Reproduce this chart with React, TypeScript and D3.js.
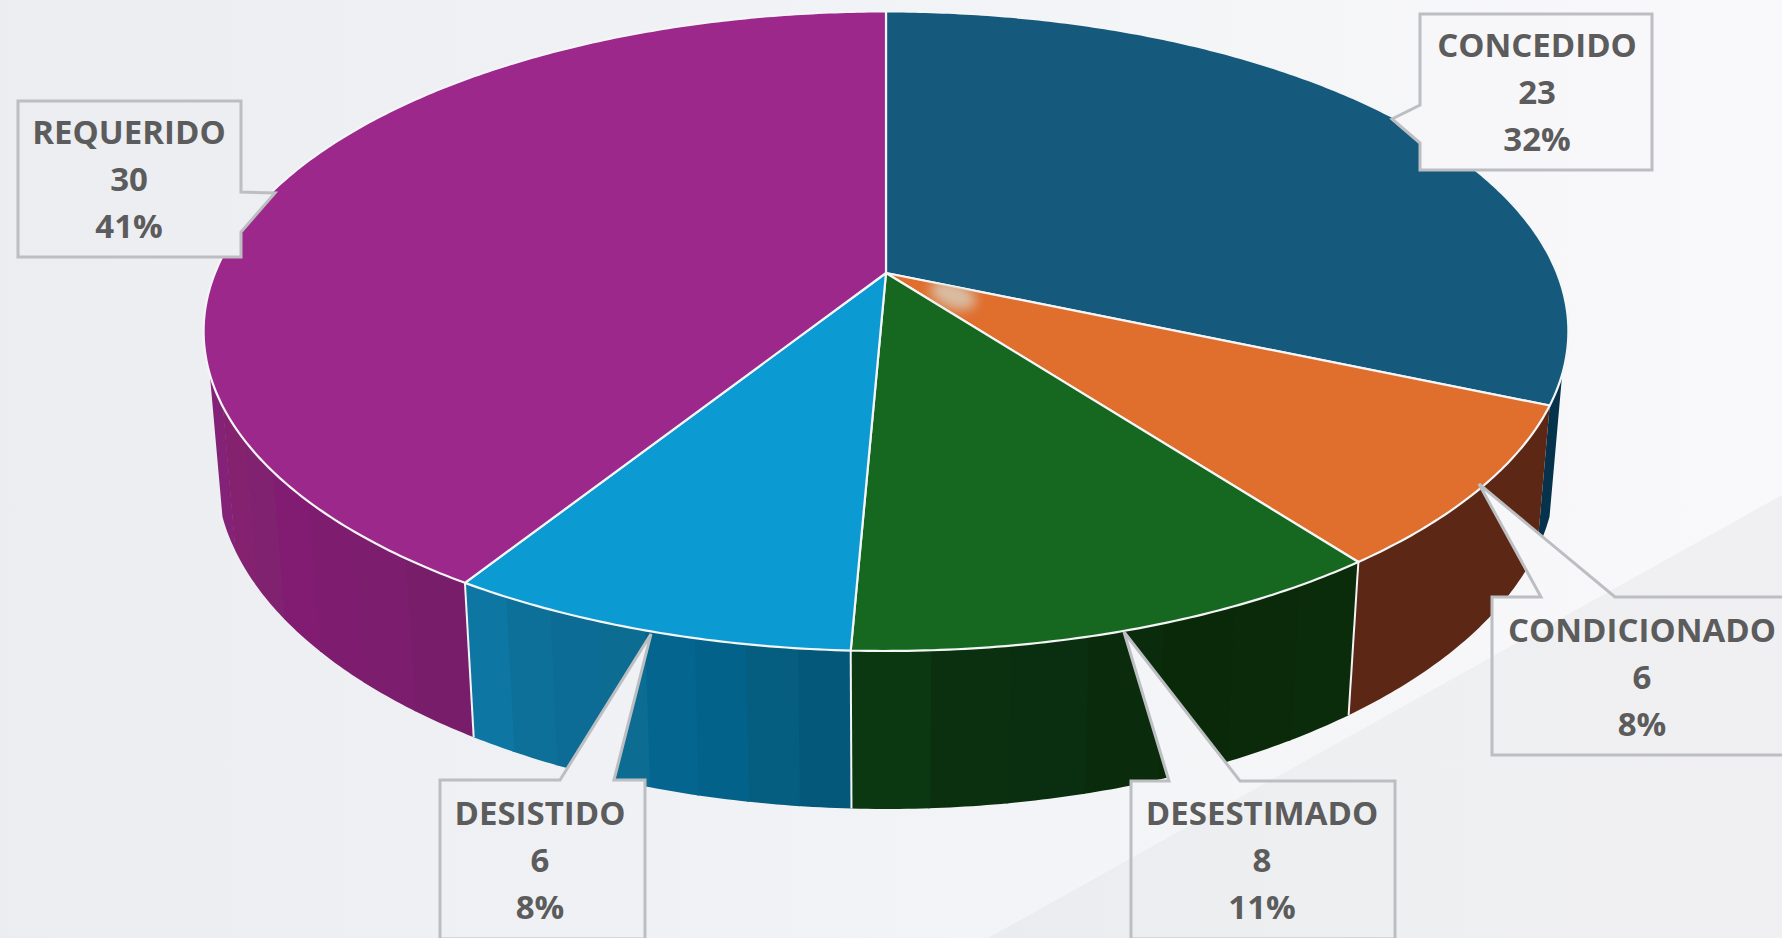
import React, { useEffect, useRef } from 'react';
import * as d3 from 'd3';

const categories = ['CONCEDIDO', 'CONDICIONADO', 'DESESTIMADO', 'DESISTIDO', 'REQUERIDO'];
const counts = [23, 6, 8, 6, 30];
const percentLabels = ['32%', '8%', '11%', '8%', '41%'];

const topColors = ['#155a7d', '#e06e2d', '#166820', '#0c9ad3', '#9c288b'];

// wall shading, one shade per band, going clockwise round the pie
const wallBands = [
    ['#06324b'],
    ['#5c2715'],
    ['#0a2c0b', '#0a2a0a', '#0a2909', '#0a2b0c', '#0a2f10', '#0a3010', '#0b3810'],
    ['#04587a', '#055e80', '#03628a', '#04658e', '#0c6c92', '#0d6c96', '#0c7099', '#0d76a2'],
    ['#781d6a', '#7c1d6d', '#7e1d6f', '#821c72', '#812270', '#85226f', '#842278'],
];

// callout outlines, tip included
const calloutOutlines = [
    [[1420, 14], [1652, 14], [1652, 170], [1420, 170], [1420, 143], [1392, 119], [1420, 105]],
    [[1492, 597], [1541, 597], [1479, 484], [1615, 597], [1800, 597], [1800, 755], [1492, 755]],
    [[1131, 781], [1169, 781], [1124, 632], [1240, 781], [1395, 781], [1395, 939], [1131, 939]],
    [[440, 780], [560, 780], [651, 634], [614, 780], [645, 780], [645, 939], [440, 939]],
    [[18, 101], [241, 101], [241, 192], [275, 193], [241, 232], [241, 257], [18, 257]],
];
const labelAnchors = [[1537, 57], [1642, 642], [1262, 825], [540, 825], [129, 144]];

const WIDTH = 1782;
const HEIGHT = 938;

// perspective of the disc, fitted on the reference
const cx = 886;
const persp = { a: 273, b: 259.5, c: -0.182, d: 671, e: 0.018, f: 143.8 };
// the walls stop 72 degrees either side of the front
const wallFrom = (108 * Math.PI) / 180;
const wallTo = (252 * Math.PI) / 180;

const project = (angle: number, level: number): [number, number] => {
    const z = -Math.cos(angle);
    const w = 1 + persp.c * z + persp.e * level;
    return [cx + (persp.d * Math.sin(angle)) / w, (persp.a + persp.b * z + persp.f * level) / w];
};

const arcAngles = (from: number, to: number) => {
    const n = Math.max(2, Math.ceil((to - from) / 0.01));
    return d3.range(n + 1).map(i => from + ((to - from) * i) / n);
};

export default function App() {
    const ref = useRef<SVGSVGElement>(null);

    useEffect(() => {
        document.body.style.margin = '0';
        const svg = d3.select(ref.current);
        svg.selectAll('*').remove();
        const defs = svg.append('defs');

        const bgGrad = defs.append('linearGradient').attr('id', 'bgGrad').attr('gradientUnits', 'userSpaceOnUse')
            .attr('x1', 0).attr('x2', WIDTH).attr('y1', 0).attr('y2', 0);
        bgGrad.append('stop').attr('offset', 0).attr('stop-color', '#ebedf1');
        bgGrad.append('stop').attr('offset', 1).attr('stop-color', '#f9f9fb');

        const cornerGrad = defs.append('linearGradient').attr('id', 'cornerGrad').attr('gradientUnits', 'userSpaceOnUse')
            .attr('x1', 990).attr('x2', WIDTH).attr('y1', 0).attr('y2', 0);
        cornerGrad.append('stop').attr('offset', 0).attr('stop-color', '#ebecef');
        cornerGrad.append('stop').attr('offset', 0.4).attr('stop-color', '#eeeff1');
        cornerGrad.append('stop').attr('offset', 1).attr('stop-color', '#f0f0f2');

        defs.append('filter').attr('id', 'smear').attr('x', '-50%').attr('y', '-50%').attr('width', '200%').attr('height', '200%')
            .append('feGaussianBlur').attr('stdDeviation', 6);

        // background
        svg.append('rect').attr('width', WIDTH).attr('height', HEIGHT).attr('fill', 'url(#bgGrad)');
        svg.append('path').attr('d', `M${WIDTH},495 L988,${HEIGHT} L${WIDTH},${HEIGHT} Z`).attr('fill', 'url(#cornerGrad)');

        const line = d3.line();
        const slices = d3.pie<number>().sort(null).startAngle(0).endAngle(2 * Math.PI)(counts);

        // callouts are knocked out of the pie so that the background shows through
        const mask = defs.append('mask').attr('id', 'calloutMask').attr('maskUnits', 'userSpaceOnUse')
            .attr('x', 0).attr('y', 0).attr('width', WIDTH).attr('height', HEIGHT);
        mask.append('rect').attr('width', WIDTH).attr('height', HEIGHT).attr('fill', '#fff');
        calloutOutlines.forEach(o => {
            mask.append('path').attr('d', line(o as [number, number][]) + 'Z').attr('fill', '#000');
        });

        const pie = svg.append('g').attr('mask', 'url(#calloutMask)');

        // walls
        slices.forEach((s, i) => {
            const from = Math.max(s.startAngle, wallFrom);
            const to = Math.min(s.endAngle, wallTo);
            if (to <= from) return;
            const bands = wallBands[i];
            const step = (to - from) / bands.length;
            bands.forEach((shade, k) => {
                const a0 = from + k * step;
                const a1 = k === bands.length - 1 ? to : a0 + step + 0.003;
                const upper = arcAngles(a0, a1).map(t => project(t, 0));
                const lower = arcAngles(a0, a1).map(t => project(t, 1)).reverse();
                pie.append('path').attr('d', line([...upper, ...lower]) + 'Z').attr('fill', shade);
            });
        });

        // wall edges
        slices.forEach(s => {
            if (s.startAngle < Math.PI * 0.7 || s.startAngle > wallTo) return;
            pie.append('path')
                .attr('d', line([project(s.startAngle, 0), project(s.startAngle, 1)]))
                .attr('stroke', '#f2f3f5').attr('stroke-width', 2).attr('fill', 'none');
        });

        // top faces
        slices.forEach((s, i) => {
            const d = line([[cx, persp.a] as [number, number],
                ...arcAngles(s.startAngle, s.endAngle).map(t => project(t, 0))]) + 'Z';
            pie.append('path').attr('d', d).attr('fill', topColors[i]).attr('stroke', '#f4f5f6').attr('stroke-width', 2.2).attr('stroke-linejoin', 'round');
            if (i === 1) {
                defs.append('clipPath').attr('id', 'orangeClip').append('path').attr('d', d);
            }
        });

        // pale smudge near the centre of the orange slice
        pie.append('g').attr('clip-path', 'url(#orangeClip)')
            .append('ellipse').attr('cx', 953).attr('cy', 295).attr('rx', 24).attr('ry', 13)
            .attr('transform', 'rotate(20 953 295)')
            .attr('fill', '#d8cbb8').attr('opacity', 0.85).attr('filter', 'url(#smear)');

        // callout borders and text
        calloutOutlines.forEach((o, i) => {
            svg.append('path').attr('d', line(o as [number, number][]) + 'Z')
                .attr('fill', 'none').attr('stroke', '#bcbec1').attr('stroke-width', 3).attr('stroke-linejoin', 'miter');
            const [tx, ty] = labelAnchors[i];
            [categories[i], String(counts[i]), percentLabels[i]].forEach((t, k) => {
                svg.append('text').attr('x', tx).attr('y', ty + k * 47)
                    .attr('text-anchor', 'middle')
                    .attr('font-family', '"Open Sans", sans-serif').attr('font-weight', 700).attr('font-size', 33)
                    .attr('fill', '#5c5c5c').text(t);
            });
        });
    }, []);

    return <svg ref={ref} width={WIDTH} height={HEIGHT} style={{ display: 'block' }} />;
}
